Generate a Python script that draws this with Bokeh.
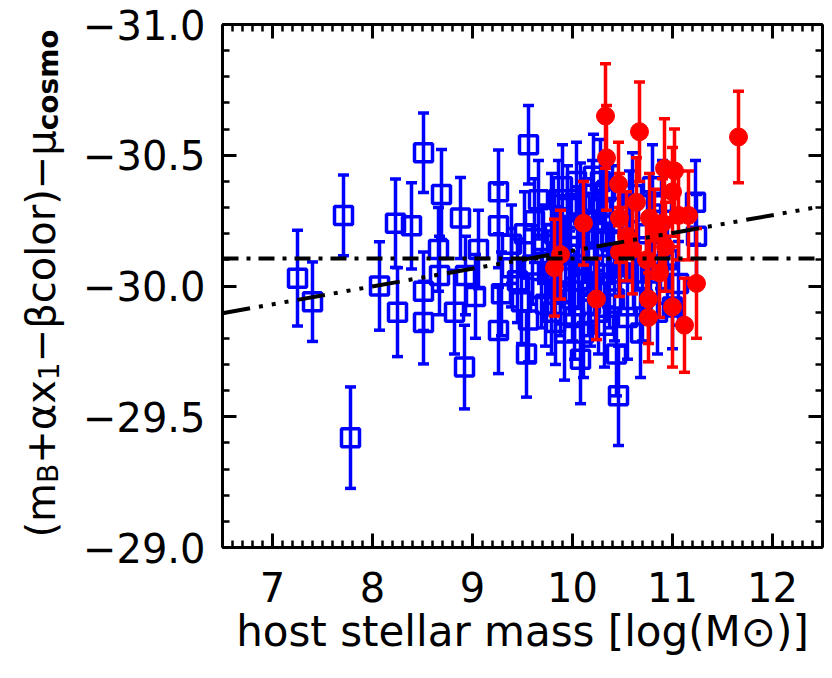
import numpy as np
from bokeh.plotting import figure
from bokeh.layouts import row
from bokeh.models import (Range1d, FixedTicker, LinearAxis, CustomJSTickFormatter,
                          Span, ColumnDataSource)
from bokeh.core.properties import value
from bokeh.embed import file_html
from bokeh.resources import INLINE

# ---------------- data ----------------
blue_mass = [7.25, 7.40, 7.71, 7.78, 8.07, 8.23, 8.25, 8.39, 8.51, 8.51, 8.51, 8.66, 8.67, 8.69,
             8.82, 8.88, 8.92, 8.93, 9.03, 9.06, 9.26, 9.26, 9.26, 9.29, 9.39, 9.39, 9.49, 9.54,
             9.56, 9.56, 9.60, 9.62, 9.69, 9.70, 9.75, 9.79, 9.79, 9.85, 9.88, 9.90, 9.92, 9.95,
             9.97, 9.98, 10.02, 10.05, 10.08, 10.08, 10.10, 10.11, 10.15, 10.18, 10.20, 10.21,
             10.25, 10.28, 10.32, 10.35, 10.40, 10.42, 10.44, 10.46, 10.50, 10.55, 10.60, 10.62,
             10.70, 10.75, 10.80, 10.85, 10.90, 10.95, 11.00, 11.06, 11.23, 11.24,
             9.82, 9.86, 9.93, 10.00, 10.04, 10.06, 10.13, 10.16, 10.22, 10.26, 10.30, 10.33,
             10.37, 10.38, 9.45, 9.52, 9.66, 9.73, 9.83, 10.48, 10.57, 10.65, 10.68, 10.78,
             10.88]
blue_resid = [-30.03, -29.94, -30.27, -29.42, -30.00, -30.24, -29.90, -30.23, -30.51, -29.98,
              -29.86, -30.14, -30.04, -30.35, -29.90, -30.26, -29.69, -30.04, -29.96, -30.14,
              -30.36, -30.23, -29.83, -29.97, -30.07, -30.16, -29.94, -29.74, -30.54, -29.87,
              -30.08, -30.25, -29.99, -30.16, -30.05, -29.90, -30.27, -30.12, -29.97, -30.38,
              -29.82, -30.30, -30.05, -30.19, -29.88, -30.22, -29.72, -30.31, -30.02, -29.82,
              -30.13, -29.93, -30.32, -30.42, -30.18, -30.40, -29.85, -30.08, -30.30, -29.95,
              -29.74, -29.58, -30.20, -29.88, -30.35, -30.05, -29.95, -30.20, -30.38, -29.90,
              -30.32, -30.10, -29.92, -30.01, -30.32, -30.19,
              -30.20, -30.33, -30.10, -29.95, -30.40, -30.08, -30.25, -29.98, -30.05, -29.90,
              -30.24, -30.36, -30.00, -30.17, -30.02, -30.20, -30.33, -29.93, -29.86, -30.05,
              -30.28, -30.15, -29.82, -30.05, -30.15]
blue_err = [0.183, 0.152, 0.154, 0.194, 0.169, 0.169, 0.17, 0.165, 0.152, 0.15, 0.158, 0.16,
            0.15, 0.172, 0.16, 0.155, 0.16, 0.15, 0.16, 0.15, 0.16, 0.16, 0.165, 0.16, 0.15, 0.15,
            0.16, 0.165, 0.15, 0.16, 0.15, 0.16, 0.15, 0.15, 0.16, 0.16, 0.16, 0.16, 0.16, 0.16,
            0.18, 0.16, 0.16, 0.16, 0.16, 0.16, 0.17, 0.16, 0.16, 0.17, 0.16, 0.16, 0.16, 0.16,
            0.16, 0.16, 0.16, 0.16, 0.16, 0.16, 0.16, 0.19, 0.16, 0.16, 0.16, 0.16, 0.16, 0.16,
            0.16, 0.16, 0.16, 0.16, 0.16, 0.16, 0.16, 0.16,
            0.16, 0.15, 0.16, 0.16, 0.15, 0.16, 0.16, 0.17, 0.16, 0.16, 0.16, 0.15, 0.16, 0.16,
            0.16, 0.16, 0.15, 0.16, 0.16, 0.16, 0.16, 0.16, 0.17, 0.16, 0.16]

red_mass = [11.66, 10.33, 10.67, 10.34, 10.46, 10.92, 11.02, 11.16, 10.11, 9.88, 9.82, 10.24,
            10.47, 10.47, 10.64, 10.76, 10.76, 11.00, 11.12, 11.24, 10.54, 10.77, 10.82, 10.90,
            11.00, 11.06, 10.60, 10.93, 10.74, 10.87]
red_resid = [-30.57, -30.65, -30.59, -30.49, -30.39, -30.45, -30.44, -30.27, -30.24, -30.12,
             -30.07, -29.95, -30.26, -30.13, -30.32, -29.95, -29.88, -29.92, -29.85, -30.01,
             -30.19, -30.26, -30.20, -30.24, -30.36, -30.27, -30.14, -30.15, -30.10, -30.05]
red_err = [0.175, 0.20, 0.19, 0.20, 0.16, 0.19, 0.16, 0.17, 0.16, 0.17, 0.185, 0.155, 0.17, 0.17,
           0.17, 0.17, 0.17, 0.23, 0.18, 0.21, 0.17, 0.17, 0.17, 0.17, 0.17, 0.17, 0.17, 0.17,
           0.17, 0.17]

x_major_ticks = [7, 8, 9, 10, 11, 12]
y_major_ticks = [-31.0, -30.5, -30.0, -29.5, -29.0]
mean_level = -30.105                     # horizontal dash-dot line
fit_mass = [6.5, 12.5]                   # linear fit (dash-dot-dot-dot)
fit_resid = [-29.896, -30.305]

FONT = "DejaVu Sans"
BLUE = "#0000ff"
RED = "#ff0000"
TITLE_W = 74
FRAME_TOP, FRAME_BOTTOM = 24, 547         # page pixels of the plot frame

p = figure(width=824 - TITLE_W, height=670, x_range=Range1d(6.5, 12.5),
           y_range=Range1d(-29.0, -31.0), output_backend="svg", toolbar_location=None,
           min_border_left=222 - TITLE_W, min_border_right=2, min_border_top=FRAME_TOP,
           min_border_bottom=670 - FRAME_BOTTOM)
p.xgrid.visible = False
p.ygrid.visible = False
p.outline_line_color = None
p.background_fill_color = "white"

x_minor = [round(v, 1) for v in np.arange(6.5, 12.51, 0.1)]
y_minor = [round(v, 1) for v in np.arange(-31.0, -28.99, 0.1)]
xt = FixedTicker(ticks=x_major_ticks, minor_ticks=x_minor)
yt = FixedTicker(ticks=y_major_ticks, minor_ticks=y_minor)

blank = CustomJSTickFormatter(code="return '';")
yfmt = CustomJSTickFormatter(code="return '\u2212' + Math.abs(tick).toFixed(1);")


def style_axis(ax):
    ax.axis_line_width = 3
    ax.axis_line_color = "black"
    ax.major_tick_in = 14
    ax.major_tick_out = 0
    ax.minor_tick_in = 7
    ax.minor_tick_out = 0
    ax.major_tick_line_width = 3
    ax.minor_tick_line_width = 2.5
    ax.major_tick_line_color = "black"
    ax.minor_tick_line_color = "black"
    ax.major_label_text_font = FONT
    ax.major_label_text_font_size = "40px"
    ax.major_label_text_color = "black"


xa = p.xaxis[0]
xa.ticker = xt
style_axis(xa)
xa.major_label_standoff = 24
xa.axis_label = "host stellar mass [log(M\u2299)]"
xa.axis_label_text_font = FONT
xa.axis_label_text_font_size = "42px"
xa.axis_label_text_font_style = "normal"
xa.axis_label_text_color = "black"
xa.axis_label_standoff = 2

ya = p.yaxis[0]
ya.ticker = yt
ya.formatter = yfmt
style_axis(ya)
ya.major_label_standoff = 17

for loc, tk in (("above", xt), ("right", yt)):
    ax = LinearAxis(ticker=tk, formatter=blank)
    style_axis(ax)
    ax.major_label_text_font_size = "1px"
    ax.major_label_standoff = 0
    p.add_layout(ax, loc)

# ---------------- blue squares with error bars ----------------
bsrc = ColumnDataSource(dict(x=blue_mass, y=blue_resid,
                             lo=[y - e for y, e in zip(blue_resid, blue_err)],
                             hi=[y + e for y, e in zip(blue_resid, blue_err)]))
p.segment(x0="x", y0="lo", x1="x", y1="hi", source=bsrc, line_color=BLUE, line_width=3.5)
p.scatter(x="x", y="lo", source=bsrc, marker="dash", size=11, line_color=BLUE, line_width=3.5)
p.scatter(x="x", y="hi", source=bsrc, marker="dash", size=11, line_color=BLUE, line_width=3.5)
p.scatter(x="x", y="y", source=bsrc, marker="square", size=18, fill_color=None,
          line_color=BLUE, line_width=3.5)

# ---------------- red circles with error bars ----------------
rsrc = ColumnDataSource(dict(x=red_mass, y=red_resid,
                             lo=[y - e for y, e in zip(red_resid, red_err)],
                             hi=[y + e for y, e in zip(red_resid, red_err)]))
p.segment(x0="x", y0="lo", x1="x", y1="hi", source=rsrc, line_color=RED, line_width=3.5)
p.scatter(x="x", y="lo", source=rsrc, marker="dash", size=11, line_color=RED, line_width=3.5)
p.scatter(x="x", y="hi", source=rsrc, marker="dash", size=11, line_color=RED, line_width=3.5)
p.scatter(x="x", y="y", source=rsrc, marker="circle", size=18, fill_color=RED,
          line_color=RED, line_width=1)

# ---------------- reference lines ----------------
p.add_layout(Span(location=mean_level, dimension="width", line_color="black", line_width=4,
                  line_dash="16 8 4 8"))
p.line(fit_mass, fit_resid, line_color="black", line_width=4, line_dash="28 9 4 9 4 9 4 9")

# ---------------- rotated y-axis title with subscripts (separate narrow panel) -------------
# Bokeh aligns the frames of plots in a row, so this panel's frame spans FRAME_TOP..FRAME_BOTTOM;
# its y range is set so that one unit equals one page pixel measured from the top.
tf = figure(width=TITLE_W, height=670, x_range=Range1d(0, TITLE_W),
            y_range=Range1d(FRAME_BOTTOM, FRAME_TOP),
            output_backend="svg", toolbar_location=None, min_border=0,
            x_axis_type=None, y_axis_type=None)
tf.outline_line_color = None
tf.xgrid.visible = False
tf.ygrid.visible = False

MAIN, SUB = 40, 28
pieces = [("(m", MAIN, False, "normal", 1.364),
          ("B", SUB, True, "normal", 0.686),
          ("+\u03b1x", MAIN, False, "normal", 2.089),
          ("1", SUB, True, "normal", 0.636),
          ("\u2212\u03b2color)\u2212\u03bc", MAIN, False, "normal", 5.8),
          ("cosmo", SUB, True, "bold", 3.604)]
pos = 537.0
base_main, base_sub = 40, 48
for txt, fs, sub, style, w in pieces:
    bx = base_sub if sub else base_main
    tf.text(x=[bx], y=[pos], text=[txt], angle=np.pi / 2, text_font=value(FONT),
            text_font_size=value(f"{fs}px"), text_font_style=style, text_align="left",
            text_baseline="alphabetic", text_color="black")
    pos -= w * fs

open("out.html", "w").write(file_html(row(tf, p, spacing=0), INLINE))
